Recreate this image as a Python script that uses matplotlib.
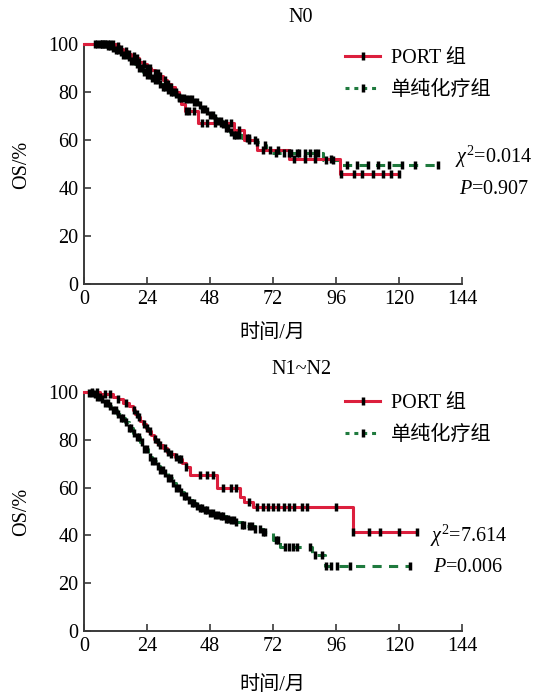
import numpy as np
import matplotlib
matplotlib.use("Agg")
import matplotlib.pyplot as plt
from matplotlib.lines import Line2D

plt.rcParams['font.family'] = ['Liberation Serif', 'Noto Sans CJK SC']
plt.rcParams['mathtext.fontset'] = 'custom'
plt.rcParams['mathtext.rm'] = 'Liberation Serif'
plt.rcParams['mathtext.it'] = 'Liberation Serif:italic'

# ---------------- data ----------------
x_ticks = [0, 24, 48, 72, 96, 120, 144]
y_ticks = [0, 20, 40, 60, 80, 100]
series_labels = ["PORT 组", "单纯化疗组"]
panel_titles = ["N0", "N1~N2"]
stats_chi = ["0.014", "7.614"]
stats_p = ["0.907", "0.006"]

# N0 panel
n0_port_t = [0, 12, 13.5, 15, 16.5, 18, 19.5, 21, 22.5, 24, 25.5, 27, 28.5, 30, 31.5, 33, 34.5,
             36, 37, 38.5, 43.5, 57, 61, 66, 78, 97.5]
n0_port_s = [100, 99, 98, 97, 96, 95, 94, 92.5, 91.5, 90, 89, 88, 86.5, 85, 83.5, 82, 80, 78, 75,
             72, 67, 64, 60, 56, 52, 46]
n0_port_end = 120
n0_port_cens = [7, 8, 9, 10, 11, 13, 14, 16, 17, 19, 20, 21, 23, 24, 25, 27, 28, 29, 31, 32, 33,
                35, 36, 39, 40, 42, 45, 47, 50, 52, 54, 56, 59, 63, 68, 71, 74, 80, 84, 88, 94,
                98, 103, 106, 110, 114, 117, 120]

n0_chemo_t = [0, 9, 10.5, 12, 13.5, 15, 16.5, 18, 19.5, 21, 22.5, 24, 25.5, 27, 28.5, 30, 31.5,
              33, 34.5, 36, 39, 42, 43.5, 45, 46.5, 48, 49.5, 51, 52.5, 54, 55.5, 57, 60, 64, 66,
              68, 69.5, 71, 91, 97]
n0_chemo_s = [100, 99, 98.5, 97.5, 96.5, 95.5, 94.5, 93, 91.5, 90, 88.5, 87, 86, 85, 83.5, 82, 81,
              80, 79, 77.5, 77, 76, 74.5, 73, 72, 70.5, 69, 68, 66.5, 65, 63.5, 62, 61, 60, 59,
              58, 56, 54.6, 51.5, 49.7]
n0_chemo_end = 135
n0_chemo_cens = [4, 5, 6, 7, 8, 9, 10, 11, 12, 13, 14, 15, 16, 17, 18, 19, 20, 21, 22, 23, 24, 25,
                 26, 27, 28, 29, 30, 31, 32, 33, 34, 35, 36, 37, 38, 39, 40, 41, 42, 43, 44, 45,
                 46, 47, 48, 49, 50, 51, 52, 53, 54, 55, 56, 57, 58, 59, 62, 63, 65, 66, 69, 73,
                 76, 78, 79, 81, 82, 84, 86, 88, 89, 92, 95, 100, 104, 108, 112, 116, 121, 126, 135]

# N1~N2 panel
n12_port_t = [0, 6, 11, 13, 15, 17, 18.5, 19.5, 20.5, 21.5, 22.5, 23.5, 24.5, 25.5, 26.5, 27.5,
              28.5, 30, 31.5, 33, 34.5, 36, 37.5, 39, 40.4, 50.6, 59.5, 61, 64.4, 102.4]
n12_port_s = [100, 99, 98, 97, 95.5, 94, 92.5, 91, 89.5, 88, 86.5, 85, 83.5, 82, 80.5, 79, 78,
              76.5, 75, 74, 73, 72, 70.5, 68.5, 65.3, 60, 56, 54, 52, 41.5]
n12_port_end = 127
n12_port_cens = [3, 5, 8, 10, 13, 16, 19, 20, 21, 23, 24, 25, 27, 28, 29, 31, 32, 33, 35, 36, 37,
                 39, 44, 47, 49, 53, 56, 58, 63, 66, 68, 70, 72, 74, 76, 78, 80, 83, 85, 96,
                 102.4, 108.6, 112.6, 120, 127]

n12_chemo_t = [0, 2, 3.5, 5, 6.5, 8, 9.5, 11, 12.5, 14, 15.5, 17, 18.5, 20, 21.5, 23, 24.5, 26,
               27.5, 29, 30.5, 32, 33.5, 35, 36.6, 38, 39.5, 41, 42.5, 44, 46, 48, 50, 52, 54, 56,
               58, 60, 62, 65, 68, 70, 72, 74.7, 86.9, 91.8]
n12_chemo_s = [100, 99.5, 99, 98, 97, 95.5, 94, 92.5, 91, 89, 87.5, 85, 83, 81, 79, 76, 73, 71,
               69, 67.5, 66, 64, 62, 60, 58, 56.5, 55, 53.5, 52.5, 51.5, 50.5, 49.5, 48.5, 48, 47,
               46.5, 45.5, 44.5, 43.8, 42.5, 41.5, 41, 38, 35.3, 32, 27]
n12_chemo_end = 124
n12_chemo_cens = [2, 3, 4, 5, 6, 7, 8, 9, 10, 11, 12, 13, 14, 15, 16, 17, 18, 19, 20, 21, 22, 23,
                  24, 25, 26, 27, 28, 29, 30, 31, 32, 33, 34, 35, 36, 37, 38, 39, 40, 41, 42, 43,
                  44, 45, 46, 47, 48, 49, 50, 51, 52, 53, 54, 55, 56, 57, 58, 60, 61, 63, 64, 65,
                  67, 68, 69, 73, 74, 76.6, 78, 79.5, 81, 86, 88, 90.7, 92, 94, 96.4, 101.3, 124]

RED = '#dc1f3d'
GREEN = '#1f7a3e'
SPINE = '#3a3a3a'
FS = 14.5
MS = 5.5
MEW = 2.5


def step_xy(t, s, end):
    t = list(t) + [end]
    s = list(s) + [s[-1]]
    return np.array(t, float), np.array(s, float)


def surv_at(t, s, tc):
    t = np.asarray(t, float)
    s = np.asarray(s, float)
    idx = np.searchsorted(t, np.asarray(tc, float), side='right') - 1
    return s[idx]


fig = plt.figure(figsize=(5.35, 6.97), dpi=100)
W, H = 535.0, 697.0

panels = [
    dict(ax_px=(84, 44, 462, 284), title=panel_titles[0],
         port=(n0_port_t, n0_port_s, n0_port_end, n0_port_cens),
         chemo=(n0_chemo_t, n0_chemo_s, n0_chemo_end, n0_chemo_cens),
         chi=stats_chi[0], p=stats_p[0], chi_xy=(455, 157), p_xy=(459, 189),
         title_y=17, xlabel_y=333, ylabel_y=165, leg_top=49),
    dict(ax_px=(84, 392, 462, 631), title=panel_titles[1],
         port=(n12_port_t, n12_port_s, n12_port_end, n12_port_cens),
         chemo=(n12_chemo_t, n12_chemo_s, n12_chemo_end, n12_chemo_cens),
         chi=stats_chi[1], p=stats_p[1], chi_xy=(430, 536), p_xy=(433, 567),
         title_y=370, xlabel_y=685, ylabel_y=512, leg_top=394),
]

for pan in panels:
    x0, y0, x1, y1 = pan['ax_px']
    ax = fig.add_axes([x0 / W, 1 - y1 / H, (x1 - x0) / W, (y1 - y0) / H])
    ax.set_xlim(0, 144)
    ax.set_ylim(0, 100)
    for sp in ['top', 'right']:
        ax.spines[sp].set_visible(False)
    for sp in ['left', 'bottom']:
        ax.spines[sp].set_color(SPINE)
        ax.spines[sp].set_linewidth(1.4)
    ax.set_xticks(x_ticks)
    ax.set_yticks(y_ticks)
    ax.tick_params(direction='in', length=5, width=1.2, color=SPINE, labelsize=FS,
                   pad=4)

    # chemo (green dashed)
    t, s, end, cens = pan['chemo']
    xs, ys = step_xy(t, s, end)
    ax.plot(xs, ys, drawstyle='steps-post', color=GREEN, lw=2.2,
            linestyle=(0, (3, 2.4)), clip_on=False, zorder=3)
    ax.plot(cens, surv_at(t, s, cens), linestyle='none', marker='|', ms=MS,
            mew=MEW, color='black', clip_on=False, zorder=5)

    # PORT (red solid)
    t, s, end, cens = pan['port']
    xs, ys = step_xy(t, s, end)
    ax.plot(xs, ys, drawstyle='steps-post', color=RED, lw=2.2, clip_on=False, zorder=4)
    ax.plot(cens, surv_at(t, s, cens), linestyle='none', marker='|', ms=MS,
            mew=MEW, color='black', clip_on=False, zorder=5)

    handles = [
        Line2D([], [], color=RED, lw=2.2, marker='|', ms=MS, mew=MEW, mec='black'),
        Line2D([], [], color=GREEN, lw=2.2, linestyle=(0, (1.3, 1.6)), marker='|', ms=MS,
               mew=MEW, mec='black'),
    ]
    ax.legend(handles, series_labels, loc='upper left',
              bbox_to_anchor=((345 - x0) / (x1 - x0), 1 - (pan['leg_top'] - y0) / (y1 - y0)),
              frameon=False, fontsize=FS, handlelength=1.75, handletextpad=0.55,
              labelspacing=0.62, borderpad=0, borderaxespad=0, numpoints=1)

    fig.text(301 / W, 1 - pan['title_y'] / H, pan['title'], ha='center', va='center',
             fontsize=FS)
    fig.text(272 / W, 1 - pan['xlabel_y'] / H, "时间/月", ha='center', va='center',
             fontsize=FS)
    fig.text(22 / W, 1 - pan['ylabel_y'] / H, "OS/%", ha='center', va='center',
             fontsize=FS, rotation=90)
    cx, cy = pan['chi_xy']
    fig.text(cx / W, 1 - cy / H, r"$\it{\chi}^{2}$=" + pan['chi'], ha='left', va='center',
             fontsize=FS)
    px, py = pan['p_xy']
    fig.text(px / W, 1 - py / H, r"$\it{P}$=" + pan['p'], ha='left', va='center',
             fontsize=FS)

fig.savefig("out.png", dpi=100)
